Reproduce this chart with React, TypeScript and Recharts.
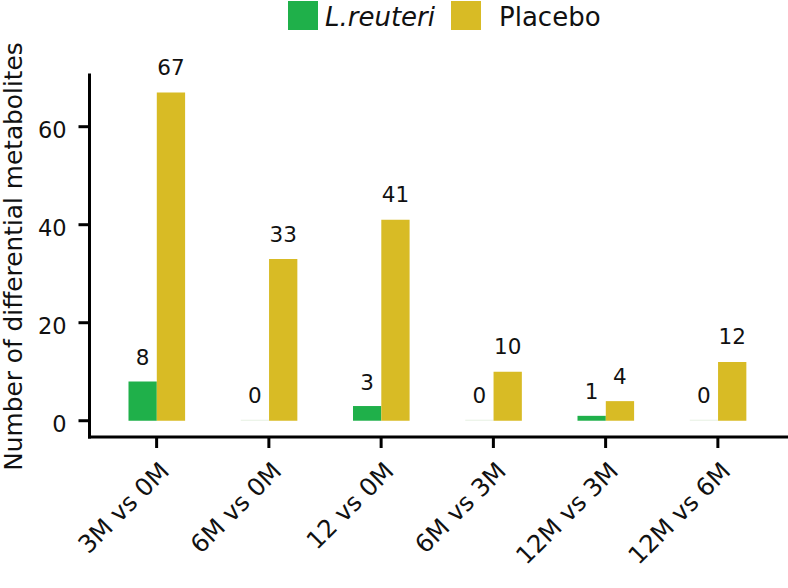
import React from 'react';
import { BarChart, Bar, XAxis, YAxis, LabelList, Cell } from 'recharts';

const categories = ['3M vs 0M', '6M vs 0M', '12 vs 0M', '6M vs 3M', '12M vs 3M', '12M vs 6M'];
const reuteriValues = [8, 0, 3, 0, 1, 0];
const placeboValues = [67, 33, 41, 10, 4, 12];
const yTicks = [0, 20, 40, 60];
const seriesNames = ['L.reuteri', 'Placebo'];
const yLabel = 'Number of differential metabolites';

const GREEN = '#1fb04a';
const GREEN_ZERO = '#e6f0e2';
const GOLD = '#d8bb25';
const FONT = '"DejaVu Sans", sans-serif';

const data = categories.map((c, i) => ({
  name: c,
  reuteri: reuteriValues[i],
  placebo: placeboValues[i],
}));

const XTick = (props: any) => {
  const { x, y, payload } = props;
  return (
    <text
      x={0}
      y={0}
      transform={`translate(${x + 14},${y + 24.5}) rotate(-45)`}
      textAnchor="end"
      fontSize={24.5}
      fontFamily={FONT}
      fill="#111"
    >
      {payload.value}
    </text>
  );
};

const YTick = (props: any) => {
  const { x, y, payload } = props;
  return (
    <text x={x - 11.8} y={y + 10.8} textAnchor="end" fontSize={22.5} fontFamily={FONT} fill="#111">
      {payload.value}
    </text>
  );
};

const YLabel = () => (
  <text
    x={0}
    y={0}
    transform="translate(22,256.5) rotate(-90)"
    textAnchor="middle"
    fontSize={24.8}
    fontFamily={FONT}
    fill="#111"
  >
    {yLabel}
  </text>
);

export default function App() {
  return (
    <div style={{ position: 'absolute', left: 0, top: 0, width: 788, height: 588, background: '#fff' }}>
      <BarChart
        width={788}
        height={588}
        data={data}
        margin={{ top: 75, right: 1, bottom: 0, left: 0 }}
        barGap={0}
        barSize={28.3}
      >
        <XAxis
          dataKey="name"
          height={151}
          interval={0}
          padding={{ left: 11, right: 13 }}
          axisLine={{ stroke: '#000', strokeWidth: 3, strokeLinecap: 'square' }}
          tickLine={{ stroke: '#000', strokeWidth: 3 }}
          tickSize={11}
          tickMargin={0}
          tick={<XTick />}
        />
        <YAxis
          width={89.5}
          type="number"
          domain={[-3.32, 70.55]}
          allowDataOverflow
          ticks={yTicks}
          interval={0}
          axisLine={{ stroke: '#000', strokeWidth: 3, strokeLinecap: 'square' }}
          tickLine={{ stroke: '#000', strokeWidth: 3 }}
          tickSize={11}
          tickMargin={0}
          tick={<YTick />}
          label={{ content: () => <YLabel /> }}
        />
        <Bar dataKey="reuteri" name={seriesNames[0]} fill={GREEN} minPointSize={1} isAnimationActive={false}>
          {data.map((d, i) => (
            <Cell key={i} fill={d.reuteri === 0 ? GREEN_ZERO : GREEN} />
          ))}
          <LabelList dataKey="reuteri" position="top" offset={16.5} fontSize={21.5} fontFamily={FONT} fill="#111" />
        </Bar>
        <Bar dataKey="placebo" name={seriesNames[1]} fill={GOLD} isAnimationActive={false}>
          <LabelList dataKey="placebo" position="top" offset={17.5} fontSize={21.5} fontFamily={FONT} fill="#111" />
        </Bar>
      </BarChart>
      <svg width={788} height={40} style={{ position: 'absolute', left: 0, top: 0 }}>
        <rect x={288} y={1} width={30} height={29} fill={GREEN} />
        <text x={325} y={26} fontSize={26} fontStyle="italic" fontFamily={FONT} fill="#111">
          {seriesNames[0]}
        </text>
        <rect x={451} y={1} width={30} height={29} fill={GOLD} />
        <text x={499} y={26} fontSize={26} fontFamily={FONT} fill="#111">
          {seriesNames[1]}
        </text>
      </svg>
    </div>
  );
}
